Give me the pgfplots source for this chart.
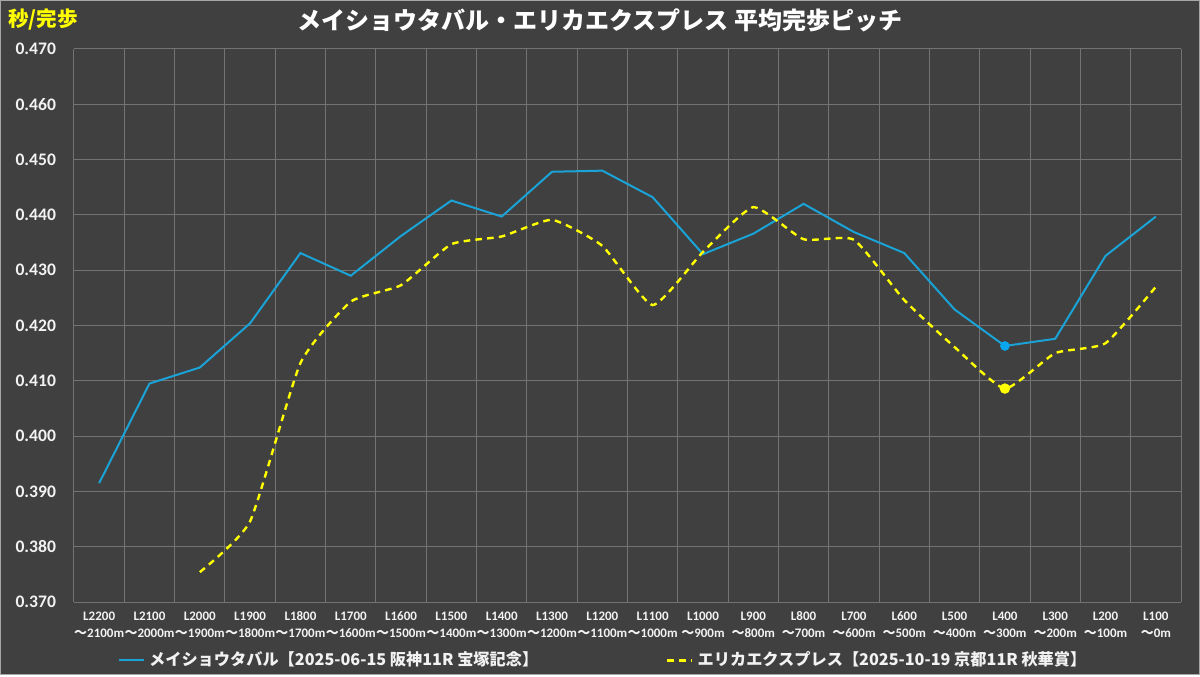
\documentclass[border=0pt]{standalone}
\usepackage{fontspec}
\setmainfont{Carlito}
\newfontfamily\cjk{Noto Sans CJK JP}
\usepackage{pgfplots}
\pgfplotsset{compat=1.18}
\definecolor{bg}{HTML}{404040}
\definecolor{gridc}{HTML}{737373}
\definecolor{blueline}{HTML}{1AA3D6}
\definecolor{bluedot}{HTML}{0AA6EE}
\definecolor{yel}{HTML}{FFFF00}
\definecolor{txt}{HTML}{F2F2F2}
\newcommand\tl[2]{\strut#1\\\strut{\cjk ～}#2}
\begin{document}
\begin{tikzpicture}
\fill[bg] (0,0) rectangle (600pt,337.5pt);
\draw[gray!70,line width=0.6pt] (0.3pt,0.3pt) rectangle (599.7pt,337.2pt);
\node[font=\cjk\bfseries\fontsize{12}{14}\selectfont,text=white] at (300pt,327.5pt) {メイショウタバル・エリカエクスプレス 平均完歩ピッチ};
\node[font=\cjk\bfseries\fontsize{10.3}{12}\selectfont,text=yel,anchor=west,inner sep=0pt] at (4pt,327.5pt) {秒/完歩};
\begin{axis}[
  at={(37pt,36.5pt)}, anchor=south west,
  scale only axis, width=553.5pt, height=276.5pt,
  xmin=-0.5, xmax=21.5, ymin=0.37, ymax=0.47,
  axis line style={gridc, line width=0.5pt},
  axis x line*=bottom, axis y line*=left,
  major tick length=0, minor tick length=0,
  xtick={0,...,21},
  xticklabels={{\tl{L2200}{2100m}},{\tl{L2100}{2000m}},{\tl{L2000}{1900m}},{\tl{L1900}{1800m}},{\tl{L1800}{1700m}},{\tl{L1700}{1600m}},{\tl{L1600}{1500m}},{\tl{L1500}{1400m}},{\tl{L1400}{1300m}},{\tl{L1300}{1200m}},{\tl{L1200}{1100m}},{\tl{L1100}{1000m}},{\tl{L1000}{900m}},{\tl{L900}{800m}},{\tl{L800}{700m}},{\tl{L700}{600m}},{\tl{L600}{500m}},{\tl{L500}{400m}},{\tl{L400}{300m}},{\tl{L300}{200m}},{\tl{L200}{100m}},{\tl{L100}{0m}}},
  xticklabel style={align=center, anchor=north, text=txt, font=\bfseries\fontsize{6.5}{8.5}\selectfont, yshift=0pt},
  minor xtick={-0.5,0.5,...,21.5},
  xminorgrids=true, xmajorgrids=false,
  ymajorgrids=true,
  grid style={gridc, line width=0.5pt},
  minor grid style={gridc, line width=0.5pt},
  ytick={0.37,0.38,...,0.471},
  yticklabel style={text=txt, font=\bfseries\fontsize{8.8}{10}\selectfont, xshift=-5.5pt},
  /pgf/number format/.cd, fixed, fixed zerofill, precision=3, assume math mode=true,
  /pgfplots/.cd,
  legend columns=2,
  legend style={at={(0.479,-0.075)}, anchor=north, draw=none, fill=none, text=txt,
    font=\cjk\bfseries\fontsize{8.1}{10}\selectfont,
    /tikz/every even column/.append style={column sep=62pt}},
  legend image code/.code={\draw[#1] (0pt,0pt) -- (12.5pt,0pt);},
]
\addplot[blueline, line width=1pt] coordinates {
(0,0.3915)(1,0.4095)(2,0.4124)(3,0.4204)(4,0.4331)(5,0.4290)(6,0.4362)(7,0.4426)(8,0.4397)(9,0.4478)(10,0.4480)(11,0.4432)(12,0.4329)(13,0.4366)(14,0.4420)(15,0.4369)(16,0.4331)(17,0.4229)(18,0.4163)(19,0.4176)(20,0.4326)(21,0.4397)};
\addlegendentry{メイショウタバル【2025-06-15 阪神11R 宝塚記念】}
\addplot[yel, line width=1.2pt, dash pattern=on 3.3pt off 2.6pt, smooth, tension=0.3] coordinates {
(2,0.3754)(3,0.3846)(4,0.4132)(5,0.4243)(6,0.4273)(7,0.4347)(8,0.4361)(9,0.4391)(10,0.4344)(11,0.4237)(12,0.4333)(13,0.4414)(14,0.4356)(15,0.4355)(16,0.4246)(17,0.4161)(18,0.4086)(19,0.4150)(20,0.4168)(21,0.4270)};
\addlegendentry{エリカエクスプレス【2025-10-19 京都11R 秋華賞】}
\addplot[only marks, mark=*, mark size=2.2pt, bluedot, forget plot] coordinates {(18,0.4163)};
\addplot[only marks, mark=*, mark size=2.4pt, yel, forget plot] coordinates {(18,0.4086)};
\end{axis}
\end{tikzpicture}
\end{document}
